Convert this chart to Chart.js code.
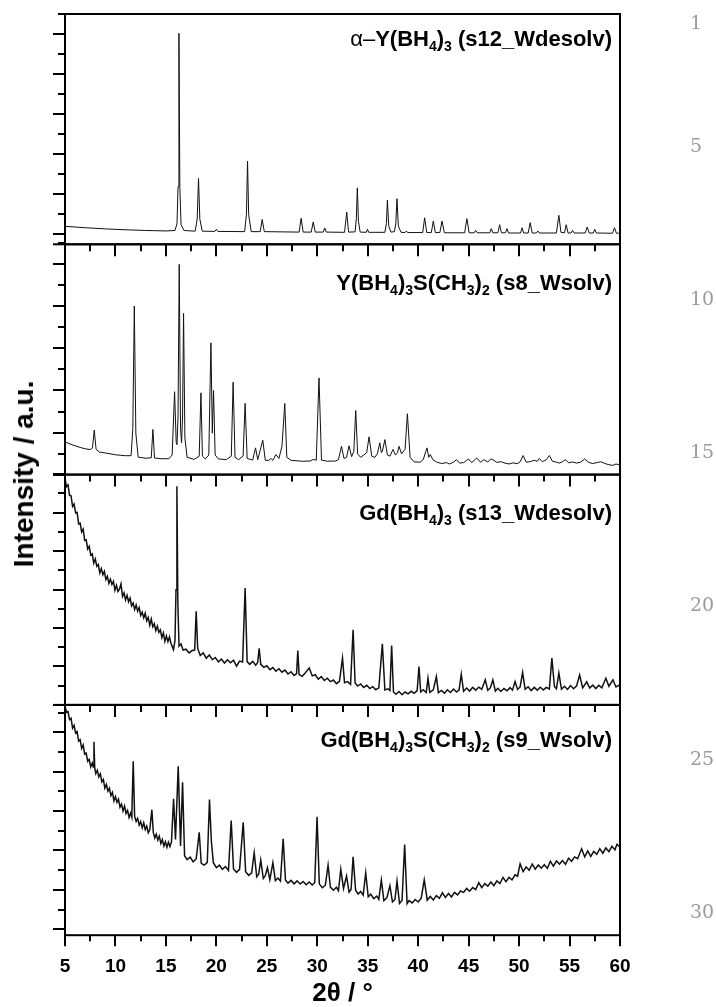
<!DOCTYPE html>
<html>
<head>
<meta charset="utf-8">
<script src="https://cdn.jsdelivr.net/npm/chart.js@4.4.1/dist/chart.umd.min.js"></script>
<style>
  html, body { margin: 0; padding: 0; background: #fff; }
  #wrap { position: relative; width: 716px; height: 1007px; overflow: hidden; }
  #plot { position: absolute; left: 0; top: 0; }
  .lbl { position: absolute; right: 104px; font: bold 22px/22px "Liberation Sans", Arial, sans-serif; white-space: nowrap; color: #000; }
  .lbl sub { font-size: 14px; vertical-align: baseline; position: relative; top: 5px; }
  .lbl .a { font-weight: normal; }
  .ytitle { position: absolute; left: 24px; top: 474px; transform: translate(-50%, -50%) rotate(-90deg);
            font: bold 28px/28px "Liberation Sans", Arial, sans-serif; white-space: nowrap; color: #000; }
  .ln { position: absolute; left: 690px; font: 19px/19px "DejaVu Serif", serif; color: #9b9b9b; }
</style>
</head>
<body>
<div id="wrap">
  <canvas id="plot" width="716" height="1007"></canvas>
  <div class="lbl" style="top:28px"><span class="a">α–</span>Y(BH<sub>4</sub>)<sub>3</sub> (s12_Wdesolv)</div>
  <div class="lbl" style="top:272px">Y(BH<sub>4</sub>)<sub>3</sub>S(CH<sub>3</sub>)<sub>2</sub> (s8_Wsolv)</div>
  <div class="lbl" style="top:502px">Gd(BH<sub>4</sub>)<sub>3</sub> (s13_Wdesolv)</div>
  <div class="lbl" style="top:729px">Gd(BH<sub>4</sub>)<sub>3</sub>S(CH<sub>3</sub>)<sub>2</sub> (s9_Wsolv)</div>
  <div class="ytitle">Intensity / a.u.</div>
</div>
<script>
// 2theta range and tick step
const xRange = [5, 60]
const xStep = 5
const lineNumbers = [1, 5, 10, 15, 20, 25, 30]

// intensities in % of each panel height
const alphaYBH4 = [
  [5, 7.8], [7, 7.2], [9, 6.7], [11, 6.3], [13, 6.0], [15, 5.8], [15.9, 6.0], [16.1, 9], [16.2, 25], [16.29, 91.6],
  [16.38, 25], [16.5, 8.5], [16.8, 6.0], [17.9, 5.7], [18.1, 11], [18.23, 28.6], [18.36, 11], [18.6, 5.7], [19.85, 5.6],
  [20.0, 6.5], [20.15, 5.6], [22.8, 5.5], [22.98, 13], [23.09, 36.1], [23.2, 13], [23.45, 5.5], [24.35, 5.5], [24.54, 10.8],
  [24.75, 5.5], [28.2, 5.3], [28.4, 11.3], [28.6, 5.3], [29.4, 5.3], [29.6, 9.7], [29.8, 5.3], [30.6, 5.3], [30.74, 7.1],
  [30.9, 5.3], [32.7, 5.2], [32.92, 14], [33.1, 5.3], [33.75, 5.4], [33.87, 11], [33.97, 24.5], [34.08, 10], [34.25, 5.3],
  [34.85, 5.2], [34.97, 6.5], [35.1, 5.2], [36.7, 5.2], [36.85, 9], [36.95, 19.2], [37.08, 8], [37.3, 5.3], [37.65, 5.5],
  [37.78, 9], [37.9, 19.8], [38.03, 8], [38.3, 5.2], [38.7, 5.1], [38.83, 5.8], [38.95, 5.1], [40.45, 5.1], [40.64, 11.5],
  [40.85, 5.1], [41.3, 5.1], [41.5, 10.1], [41.7, 5.1], [42.15, 5.1], [42.36, 10.1], [42.6, 5.0], [44.6, 5.0], [44.83, 11.1],
  [45.05, 5.0], [45.55, 5.0], [45.7, 6.0], [45.85, 5.0], [47.1, 5.0], [47.24, 6.8], [47.4, 5.0], [47.9, 5.0], [48.07, 8.5],
  [48.25, 5.0], [48.65, 5.0], [48.8, 6.8], [48.95, 4.9], [50.15, 4.9], [50.3, 7.2], [50.45, 4.9], [50.9, 4.9], [51.1, 9.4],
  [51.3, 4.9], [51.7, 4.9], [51.86, 5.8], [52.0, 4.9], [53.7, 4.9], [53.94, 12.6], [54.15, 5.2], [54.5, 5.0], [54.67, 8.5],
  [54.85, 4.9], [55.15, 4.9], [55.3, 6.0], [55.45, 4.9], [56.55, 4.9], [56.75, 7.5], [56.95, 4.9], [57.35, 4.9], [57.5, 6.5],
  [57.65, 4.9], [59.25, 4.8], [59.45, 7.2], [59.65, 4.8], [60, 4.8]
]

const yBH4SMe2 = [
  [5, 14.2], [5.5, 13.3], [6, 12.5], [6.5, 11.8], [7, 11.2], [7.5, 10.9], [7.72, 11.5], [7.9, 19.3], [8.08, 11], [8.4, 9.8],
  [9, 9.4], [10, 8.6], [11, 8.2], [11.55, 8.2], [11.72, 20], [11.87, 73.2], [12.02, 18], [12.25, 7.6], [13, 7.1], [13.55, 7.3],
  [13.71, 19.6], [13.87, 7.2], [14.5, 6.9], [15.3, 6.9], [15.62, 8.5], [15.86, 36], [16.02, 14], [16.1, 13], [16.2, 25],
  [16.32, 91.3], [16.45, 20], [16.55, 13.8], [16.65, 25], [16.75, 70], [16.88, 16], [17.1, 7.5], [17.8, 6.6], [18.3, 8],
  [18.47, 35.5], [18.62, 8], [18.9, 6.8], [19.25, 8.5], [19.46, 57.2], [19.6, 18], [19.72, 36.5], [19.88, 8.5], [20.2, 6.8],
  [21.0, 6.5], [21.48, 8], [21.66, 40.1], [21.85, 7.5], [22.2, 6.5], [22.65, 8], [22.85, 30.9], [23.05, 7], [23.6, 6.3],
  [23.88, 11.6], [24.1, 6.5], [24.6, 14.9], [24.85, 6.2], [25.2, 6.2], [25.4, 7], [25.6, 6.2], [25.9, 8.7], [26.2, 7],
  [26.5, 12.3], [26.78, 30.9], [26.98, 7.5], [27.4, 6.2], [28.5, 5.8], [29.3, 5.9], [29.6, 6.6], [29.9, 6.2], [30.17, 42],
  [30.42, 6.3], [31, 5.8], [31.8, 5.9], [32.1, 6.5], [32.4, 12.3], [32.65, 7], [32.9, 7.5], [33.15, 12.5], [33.4, 7.8],
  [33.62, 10], [33.81, 27.8], [34.0, 9], [34.3, 7.5], [34.6, 8.5], [34.9, 9.5], [35.13, 16.4], [35.4, 8], [35.7, 7.5],
  [35.95, 9], [36.2, 13.8], [36.35, 9.5], [36.45, 10], [36.7, 15.2], [36.95, 8.5], [37.2, 8], [37.5, 10.9], [37.75, 8.5],
  [37.95, 9.5], [38.1, 12.3], [38.35, 9], [38.7, 11], [38.93, 26.4], [39.2, 7.5], [39.6, 5.5], [40.2, 5.4], [40.5, 6.5],
  [40.87, 11.6], [41.05, 7.5], [41.2, 8.7], [41.45, 6.5], [41.8, 5.5], [42.3, 4.8], [42.8, 5.2], [43.1, 4.6], [43.5, 5.4],
  [43.8, 6.5], [44.1, 5], [44.5, 5.2], [44.8, 6.2], [45.0, 6.8], [45.3, 5.2], [45.8, 7.2], [46.2, 5.3], [46.5, 6.5],
  [46.9, 5.5], [47.2, 6.8], [47.5, 6.2], [47.8, 5.3], [48.2, 5.6], [48.6, 5.0], [49.0, 4.6], [49.4, 5.1], [49.8, 4.7],
  [50.1, 5.5], [50.4, 8.3], [50.7, 5.4], [51.1, 5.6], [51.5, 6.2], [51.8, 5.8], [52.0, 7], [52.3, 5.6], [52.7, 6.5],
  [53.0, 8.3], [53.3, 5.8], [53.7, 5.4], [54.0, 5.0], [54.3, 5.6], [54.6, 6.5], [54.9, 5.1], [55.3, 5.5], [55.7, 5.0],
  [56.1, 5.4], [56.5, 6.8], [56.9, 5.3], [57.3, 4.8], [57.7, 5.2], [58.1, 5.6], [58.5, 4.8], [58.9, 4.3], [59.3, 4.0],
  [59.6, 4.6], [60, 4.2]
]

const gdBH4 = [
  [5.0, 98.5], [5.15, 94.8], [5.3, 95.5], [5.45, 91], [5.6, 90.8], [5.75, 86.2], [5.9, 87.2], [6.05, 83.4], [6.2, 83.6],
  [6.35, 78.6], [6.5, 78.9], [6.65, 75.1], [6.8, 76.3], [6.95, 71.4], [7.1, 71.7], [7.25, 67.7], [7.4, 68.8], [7.55, 65.1],
  [7.7, 65.6], [7.85, 61.6], [8.0, 63.4], [8.15, 60.2], [8.3, 61], [8.45, 57.3], [8.6, 59.2], [8.75, 56.5], [8.9, 58],
  [9.05, 54.4], [9.2, 55.8], [9.35, 52.8], [9.5, 54.6], [9.65, 52.3], [9.8, 53.6], [9.95, 49.8], [10.1, 51.9], [10.25, 49.3],
  [10.4, 50.3], [10.55, 52.5], [10.7, 47.1], [10.85, 48.6], [11.0, 45.6], [11.15, 47.6], [11.3, 44.8], [11.45, 46.4],
  [11.6, 43], [11.75, 44.2], [11.9, 41.4], [12.05, 43.4], [12.2, 40.7], [12.35, 42.3], [12.5, 38.9], [12.65, 40.3],
  [12.8, 37.8], [12.95, 39.8], [13.1, 36.5], [13.25, 38], [13.4, 34.6], [13.55, 37.3], [13.7, 33.9], [13.85, 35.2],
  [14.0, 32.2], [14.15, 34.2], [14.3, 31.5], [14.45, 32.6], [14.6, 29.2], [14.75, 31.3], [14.9, 27.6], [15.05, 30],
  [15.2, 27.5], [15.35, 29.5], [15.5, 26.8], [15.75, 24], [15.9, 28], [16.0, 50], [16.09, 94.9], [16.18, 45], [16.3, 25.5],
  [16.5, 26.5], [16.7, 23.8], [17.0, 24.2], [17.3, 22.6], [17.6, 23.6], [17.85, 23.8], [18.0, 40.6], [18.15, 24.5],
  [18.4, 21.5], [18.7, 22.6], [19.0, 20.3], [19.3, 21.7], [19.6, 19.6], [19.9, 20.6], [20.2, 18.7], [20.5, 19.9],
  [20.8, 18.2], [21.1, 19.6], [21.4, 18.3], [21.7, 19.4], [22.0, 16.8], [22.3, 19], [22.6, 18.6], [22.85, 50.7],
  [23.05, 18.8], [23.3, 17.6], [23.6, 18.9], [23.9, 17.2], [24.1, 18.5], [24.24, 24.6], [24.4, 17.6], [24.7, 16.3],
  [25.0, 17], [25.3, 15.3], [25.6, 16.2], [25.9, 14.6], [26.2, 15.7], [26.5, 14.2], [26.8, 15.1], [27.1, 13.4], [27.4, 14.4],
  [27.7, 12.8], [27.95, 13.6], [28.07, 23.6], [28.2, 13.2], [28.5, 12.4], [28.8, 13.8], [29.2, 16], [29.5, 12.6],
  [29.8, 13.1], [30.1, 11.2], [30.4, 12.3], [30.7, 10.6], [31.0, 11.6], [31.3, 10.1], [31.6, 10.8], [31.9, 9.2],
  [32.2, 10.2], [32.5, 20.3], [32.7, 9.6], [33.0, 10.1], [33.3, 8.9], [33.55, 32.6], [33.75, 9.5], [34.0, 8.2], [34.3, 9.1],
  [34.6, 7.6], [34.9, 8.5], [35.2, 7.1], [35.5, 7.9], [35.8, 6.6], [36.1, 7.4], [36.45, 26.5], [36.7, 6.5], [37.0, 7],
  [37.2, 6.2], [37.37, 25.8], [37.55, 5.6], [37.8, 4.6], [38.1, 5.8], [38.4, 4.4], [38.7, 5.6], [39.0, 4.8], [39.3, 5.9],
  [39.6, 5], [39.9, 6.2], [40.08, 16.7], [40.25, 5.6], [40.5, 6.6], [40.8, 5.4], [40.97, 11.6], [41.15, 5.4], [41.5, 6.5],
  [41.8, 12.3], [42.0, 5.3], [42.3, 6.3], [42.6, 5.1], [42.9, 6.6], [43.2, 5.4], [43.5, 6.9], [43.8, 5.6], [44.05, 6.4],
  [44.27, 13.3], [44.5, 5.9], [44.8, 7.3], [45.1, 6], [45.4, 7.6], [45.7, 6.4], [46.0, 7.7], [46.3, 6.8], [46.65, 10.9],
  [46.9, 6.3], [47.15, 7.4], [47.4, 10.9], [47.65, 6], [47.9, 7.2], [48.2, 5.8], [48.5, 7.1], [48.8, 6.1], [49.1, 7.5],
  [49.35, 6.4], [49.6, 10.1], [49.85, 6.7], [50.1, 7.8], [50.35, 14.1], [50.6, 6.8], [50.9, 7.9], [51.2, 6.2], [51.5, 7.6],
  [51.8, 6.4], [52.1, 7.7], [52.4, 6.5], [52.7, 7.6], [53.0, 6.9], [53.25, 20.3], [53.5, 8], [53.7, 7], [53.94, 13.8],
  [54.2, 6.8], [54.5, 8.1], [54.8, 6.7], [55.1, 8.4], [55.4, 7], [55.7, 8.3], [56.0, 13], [56.3, 7.4], [56.7, 10], [57.0, 7.3],
  [57.3, 8.6], [57.6, 7.1], [57.9, 8.5], [58.2, 7.4], [58.6, 11.6], [58.9, 8.1], [59.3, 10.9], [59.6, 7.8], [60.0, 8.8]
]

const gdBH4SMe2 = [
  [5.0, 99.5], [5.15, 96.8], [5.3, 97.1], [5.45, 93.6], [5.6, 94.2], [5.75, 89.9], [5.9, 91.1], [6.05, 87.8], [6.2, 88.4],
  [6.35, 84.3], [6.5, 84.9], [6.65, 81.1], [6.8, 82.6], [6.95, 78.6], [7.1, 79.1], [7.25, 75.5], [7.4, 76.3], [7.55, 73.1],
  [7.7, 74.8], [7.8, 73], [7.87, 84], [7.95, 72.4], [8.05, 70.2], [8.2, 71.6], [8.35, 68.8], [8.5, 70.1], [8.65, 66.6],
  [8.8, 67.6], [8.95, 63.9], [9.1, 65.5], [9.25, 62.6], [9.4, 63.8], [9.55, 60.6], [9.7, 62], [9.85, 58.3], [10.0, 60.2],
  [10.15, 57.7], [10.3, 59.1], [10.45, 55.6], [10.6, 56.9], [10.75, 53.9], [10.9, 56.1], [11.05, 52.9], [11.2, 54.2],
  [11.35, 51.1], [11.5, 53], [11.62, 51.2], [11.76, 75.5], [11.9, 51.7], [12.05, 49.4], [12.2, 50.7], [12.35, 47.8],
  [12.5, 49.3], [12.65, 46.6], [12.8, 48.8], [12.95, 45.9], [13.1, 47.4], [13.25, 44.5], [13.4, 45.8], [13.61, 54.5],
  [13.75, 44.6], [13.9, 42.2], [14.05, 43.9], [14.2, 41.3], [14.35, 43], [14.5, 39.8], [14.65, 41.5], [14.8, 38.7],
  [14.95, 40.6], [15.1, 38.2], [15.25, 40.4], [15.4, 38.5], [15.55, 40.5], [15.76, 59.2], [15.95, 41.6], [16.22, 73.3],
  [16.45, 38.7], [16.65, 66.4], [16.85, 34.5], [17.1, 32.8], [17.4, 33.9], [17.7, 31.9], [18.0, 33.1], [18.3, 44.7],
  [18.5, 31.2], [18.8, 30.4], [19.1, 31.6], [19.32, 58.9], [19.5, 41], [19.7, 31.5], [20.0, 29.3], [20.3, 30.4],
  [20.6, 28.6], [20.9, 29.8], [21.2, 28.1], [21.47, 49.8], [21.7, 28.8], [22.0, 27.3], [22.3, 28.6], [22.66, 49],
  [22.9, 27.6], [23.2, 26], [23.5, 27.1], [23.75, 35.8], [24.0, 25.4], [24.2, 26.6], [24.4, 32.6], [24.65, 24.6],
  [24.85, 25.9], [25.06, 29.3], [25.3, 24.1], [25.6, 31.5], [25.85, 23.7], [26.1, 24.8], [26.35, 23.5], [26.62, 41.9],
  [26.85, 23.9], [27.1, 22.6], [27.4, 23.8], [27.7, 22.3], [28.0, 23.6], [28.3, 22.2], [28.6, 23.3], [28.9, 21.9],
  [29.2, 23.1], [29.5, 21.8], [29.75, 22.9], [29.98, 51.4], [30.2, 22.3], [30.5, 20.6], [30.8, 21.7], [31.07, 30.4],
  [31.3, 20.9], [31.6, 19.5], [31.9, 20.8], [32.1, 19.3], [32.33, 28.6], [32.6, 20.3], [32.9, 25.7], [33.15, 18.7],
  [33.35, 19.9], [33.55, 34], [33.8, 19.5], [34.05, 17.9], [34.3, 19], [34.55, 17.4], [34.8, 27.1], [35.05, 16.7],
  [35.3, 17.8], [35.6, 15.9], [35.9, 17], [36.1, 15.6], [36.35, 24], [36.6, 15], [36.9, 16.3], [37.2, 21.5], [37.45, 14.4],
  [37.7, 15.5], [37.9, 23.5], [38.15, 13.8], [38.4, 15.1], [38.66, 39.4], [38.9, 13.7], [39.1, 15], [39.4, 14], [39.7, 15.5],
  [40.0, 14.4], [40.3, 16.1], [40.6, 24], [40.9, 15.2], [41.2, 16.8], [41.5, 15.3], [41.8, 17.2], [42.1, 16], [42.4, 18.4],
  [42.7, 16.4], [43.0, 18.1], [43.3, 16.6], [43.6, 18.6], [43.9, 17.5], [44.2, 19.2], [44.5, 18.6], [44.8, 20.3], [45.1, 19.1],
  [45.4, 20.7], [45.7, 19.8], [46.0, 22.8], [46.3, 20.6], [46.6, 22.4], [46.9, 21.3], [47.2, 23.1], [47.5, 21.5], [47.8, 23.6],
  [48.1, 22.4], [48.4, 25.1], [48.7, 23.2], [49.0, 25.1], [49.3, 24], [49.6, 26.2], [49.85, 25.6], [50.1, 31], [50.4, 27.6],
  [50.7, 29.6], [51.0, 28.2], [51.3, 30.9], [51.6, 28.7], [51.9, 30.5], [52.2, 29.1], [52.5, 30.6], [52.8, 29], [53.1, 32.1],
  [53.4, 30], [53.7, 32.2], [54.0, 30.9], [54.3, 32.4], [54.6, 30.8], [54.9, 33.4], [55.2, 32.1], [55.5, 34], [55.8, 33.2],
  [56.2, 37.5], [56.5, 34], [56.8, 36.6], [57.1, 34.2], [57.4, 36.4], [57.7, 35.1], [58.0, 37.6], [58.3, 35.6], [58.6, 37.9],
  [58.9, 36.3], [59.2, 38.6], [59.5, 37.1], [59.7, 39.5], [60.0, 38.2]
]

// panels top to bottom: axis id, first major y tick, major tick step
const panels = [
  { axis: 'yA', data: alphaYBH4, tickStart: 4.3, tickStep: 17.4 },
  { axis: 'yB', data: yBH4SMe2, tickStart: 0, tickStep: 18.26 },
  { axis: 'yC', data: gdBH4, tickStart: 0, tickStep: 16.7 },
  { axis: 'yD', data: gdBH4SMe2, tickStart: 2.6, tickStep: 17.1 }
]

const FONT = '"Liberation Sans", Arial, sans-serif'

const frames = {
  id: 'frames',
  afterDraw(chart) {
    const { ctx, chartArea: a, scales } = chart
    const xs = scales.x
    ctx.save()
    ctx.strokeStyle = '#000'
    ctx.lineWidth = 2
    ctx.lineCap = 'butt'
    const line = (x1, y1, x2, y2) => {
      ctx.beginPath(); ctx.moveTo(x1, y1); ctx.lineTo(x2, y2); ctx.stroke()
    }
    panels.forEach((p, i) => {
      const ys = scales[p.axis]
      ctx.strokeRect(a.left, ys.top, a.right - a.left, ys.bottom - ys.top)
      if (i > 0) line(a.left - 12, ys.top, a.left, ys.top)
      // y ticks, major and minor alternating
      for (let k = 0; p.tickStart + k * p.tickStep / 2 <= 100.5; k++) {
        const py = Math.round(ys.getPixelForValue(p.tickStart + k * p.tickStep / 2))
        line(a.left - (k % 2 === 0 ? 12 : 7), py, a.left, py)
      }
      // x ticks hanging from the top of the lower panels
      if (i > 0) {
        for (let v = xRange[0]; v <= xRange[1]; v += xStep / 2) {
          const px = Math.round(xs.getPixelForValue(v))
          line(px, ys.top, px, ys.top + (v % xStep === 0 ? 12 : 7))
        }
      }
    })
    const bottom = scales[panels[panels.length - 1].axis].bottom
    for (let v = xRange[0]; v <= xRange[1]; v += xStep / 2) {
      const px = Math.round(xs.getPixelForValue(v))
      line(px, bottom, px, bottom + (v % xStep === 0 ? 11 : 6))
    }
    ctx.restore()
  }
}

const scales = {
  x: {
    type: 'linear', min: xRange[0], max: xRange[1],
    grid: { display: false, drawTicks: false },
    border: { display: false },
    ticks: { stepSize: xStep, autoSkip: false, maxRotation: 0, padding: 20, color: '#000',
             font: { family: FONT, size: 19, weight: 'bold' } },
    title: { display: true, text: '2θ / °', color: '#000', padding: { top: -17, bottom: 0 },
             font: { family: FONT, size: 26, weight: 'bold', lineHeight: 1 } }
  }
}
// stacked y axes, defined bottom panel first so the last one sits on top
panels.slice().reverse().forEach(p => {
  scales[p.axis] = {
    type: 'linear', position: 'left', stack: 'xrd', stackWeight: 1, min: 0, max: 100,
    grid: { display: false, drawTicks: false },
    border: { display: false },
    ticks: { display: false }
  }
})

new Chart(document.getElementById('plot'), {
  type: 'line',
  data: {
    datasets: panels.map((p, i) => ({
      data: p.data.map(([x, y]) => ({ x, y })),
      yAxisID: p.axis,
      borderColor: '#111',
      borderWidth: i < 2 ? 1 : 1.5,
      pointRadius: 0,
      tension: 0
    }))
  },
  options: {
    responsive: false,
    animation: false,
    layout: { padding: { left: 65, right: 96, top: 14, bottom: 0 } },
    plugins: { legend: { display: false }, tooltip: { enabled: false } },
    scales
  },
  plugins: [frames]
})

const wrap = document.getElementById('wrap')
lineNumbers.forEach(n => {
  const d = document.createElement('div')
  d.className = 'ln'
  d.textContent = n
  d.style.top = (12.9 + (n - 1) * 30.66) + 'px'
  wrap.appendChild(d)
})
</script>
</body>
</html>
